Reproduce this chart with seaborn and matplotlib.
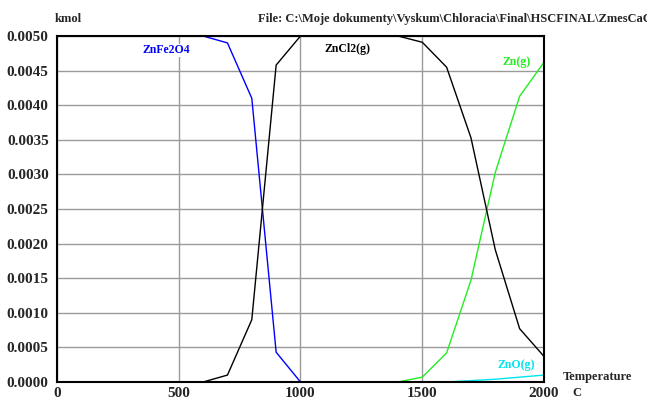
import matplotlib
matplotlib.use("Agg")
import matplotlib.pyplot as plt
import seaborn as sns
import pandas as pd

temps = [0, 100, 200, 300, 400, 500, 600, 700, 800, 900, 1000,
         1100, 1200, 1300, 1400, 1500, 1600, 1700, 1800, 1900, 2000]
znfe2o4 = [0.0050, 0.0050, 0.0050, 0.0050, 0.0050, 0.0050, 0.0050, 0.00490, 0.00410, 0.00043, 0.0,
           0.0, 0.0, 0.0, 0.0, 0.0, 0.0, 0.0, 0.0, 0.0, 0.0]
zncl2 = [0.0, 0.0, 0.0, 0.0, 0.0, 0.0, 0.0, 0.00010, 0.00090, 0.00458, 0.0050,
         0.0050, 0.0050, 0.0050, 0.0050, 0.00491, 0.00455, 0.00353, 0.00191, 0.00077, 0.00037]
zn = [0.0, 0.0, 0.0, 0.0, 0.0, 0.0, 0.0, 0.0, 0.0, 0.0, 0.0,
      0.0, 0.0, 0.0, 0.0, 0.00007, 0.00042, 0.00147, 0.00303, 0.00413, 0.00462]
zno = [0.0, 0.0, 0.0, 0.0, 0.0, 0.0, 0.0, 0.0, 0.0, 0.0, 0.0,
       0.0, 0.0, 0.0, 0.0, 0.0, 0.0, 0.00002, 0.00004, 0.00007, 0.00010]
other = [0.0] * 21

series = {"other": other, "ZnO(g)": zno, "Zn(g)": zn, "ZnFe2O4": znfe2o4, "ZnCl2(g)": zncl2}
colors = {"other": "#006400", "ZnO(g)": "#00e5ee", "Zn(g)": "#22ee22",
          "ZnFe2O4": "#0000ff", "ZnCl2(g)": "#000000"}

df = pd.concat([pd.DataFrame({"T": temps, "kmol": v, "species": k}) for k, v in series.items()])

sns.set_style("white")
plt.rcParams["font.family"] = ["Liberation Serif", "DejaVu Serif"]
plt.rcParams["font.weight"] = "bold"

fig = plt.figure(figsize=(6.47, 4.01), dpi=100)
ax = fig.add_axes([0.0881, 0.0474, 0.7527, 0.8628])
sns.lineplot(data=df, x="T", y="kmol", hue="species", palette=colors, linewidth=1.0,
             legend=False, ax=ax, zorder=3)

ax.set_xlim(0, 2000)
ax.set_ylim(0, 0.005)
ax.set_xticks([0, 500, 1000, 1500, 2000])
ax.set_yticks([i * 0.0005 for i in range(11)])
ax.set_yticklabels([f"{i * 0.0005:.4f}" for i in range(11)])
ax.tick_params(axis="y", labelsize=11, length=0, pad=6)
ax.tick_params(axis="x", labelsize=11, length=0, pad=3.5)
for lab in ax.get_xticklabels() + ax.get_yticklabels():
    lab.set_fontweight("bold")
ax.grid(True, color="#9a9a9a", linewidth=1.0, zorder=1)
ax.set_xlabel("")
ax.set_ylabel("")
for s in ax.spines.values():
    s.set_color("black")
    s.set_linewidth(1.5)
    s.set_zorder(4)

bbox = dict(facecolor="white", edgecolor="none", pad=0.5)
ax.text(353, 0.00475, "ZnFe2O4", color="#0000ff", fontsize=8.5, fontweight="bold", bbox=bbox, zorder=5)
ax.text(1100, 0.00477, "ZnCl2(g)", color="black", fontsize=8.5, fontweight="bold", bbox=bbox, zorder=5)
ax.text(1830, 0.00458, "Zn(g)", color="#22ee22", fontsize=8.5, fontweight="bold", bbox=bbox, zorder=5)
ax.text(1810, 0.00020, "ZnO(g)", color="#00e5ee", fontsize=8.5, fontweight="bold", bbox=bbox, zorder=5)

fig.text(55 / 647, 1 - 19 / 401, "kmol", fontsize=9, fontweight="bold", va="center")
fig.text(258 / 647, 1 - 19 / 401, r"File: C:\Moje dokumenty\Vyskum\Chloracia\Final\HSCFINAL\ZmesCaCl2",
         fontsize=9, fontweight="bold", va="center")
fig.text(563 / 647, 1 - 377 / 401, "Temperature", fontsize=9, fontweight="bold", va="center")
fig.text(572 / 647, 1 - 393 / 401, "C", fontsize=9, fontweight="bold", va="center")

fig.savefig("out.png", dpi=100)
